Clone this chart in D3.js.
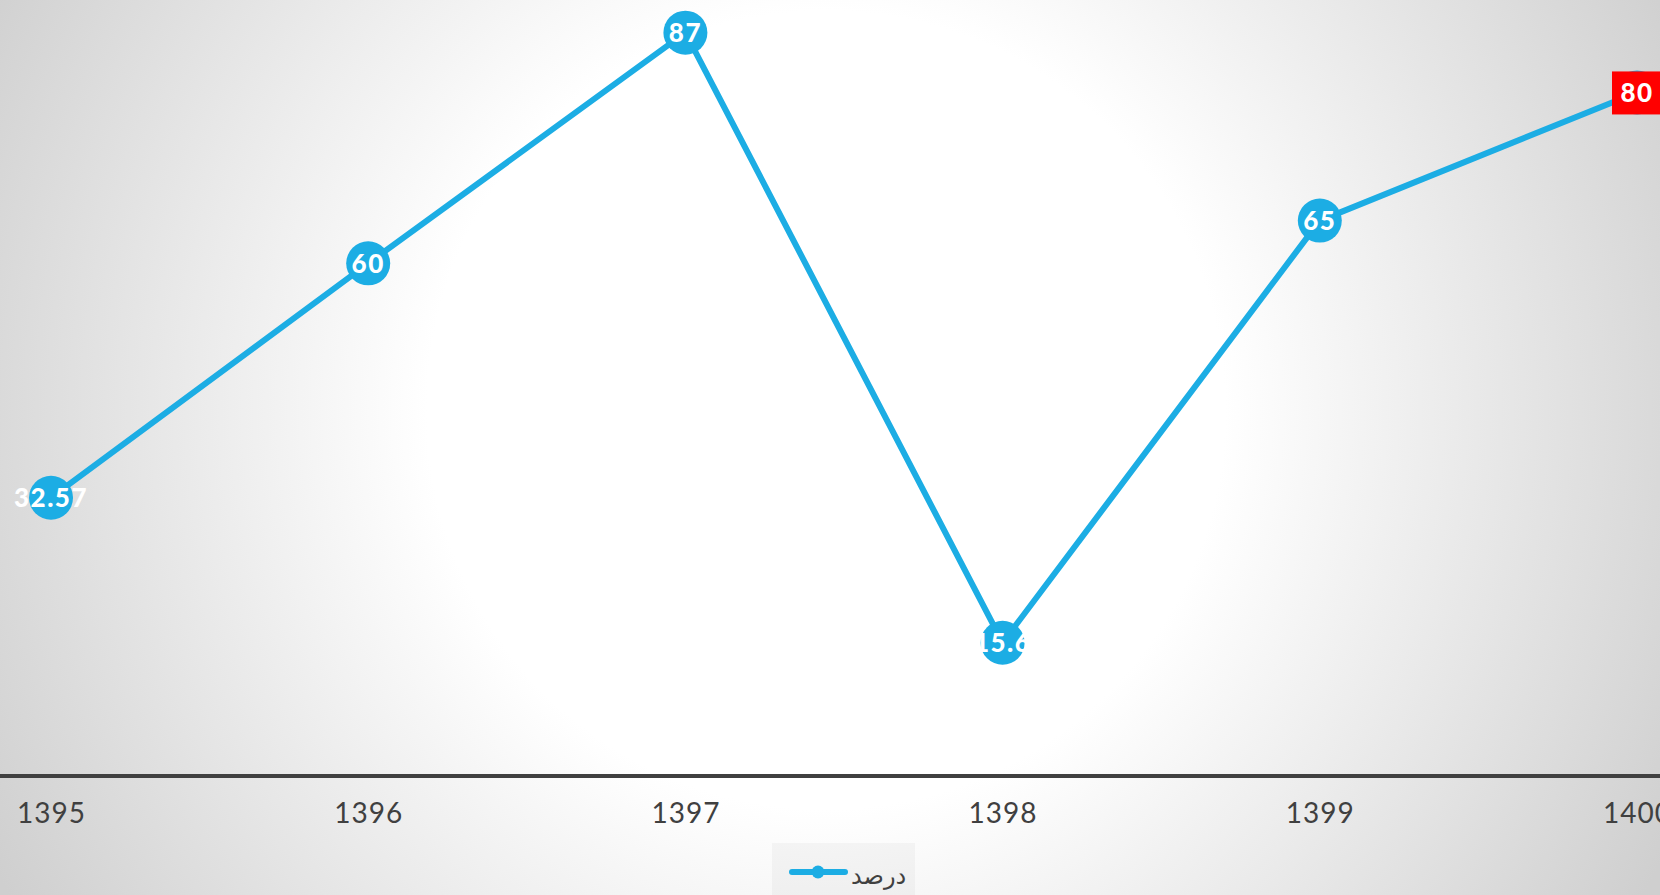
<!DOCTYPE html>
<html>
<head>
<meta charset="utf-8">
<script src="https://cdn.jsdelivr.net/npm/d3@7"></script>
<style>
  html, body { margin: 0; padding: 0; overflow: hidden; }
  svg { display: block; }
</style>
</head>
<body>
<svg width="1660" height="895"></svg>
<script>
var years = ['1395', '1396', '1397', '1398', '1399', '1400'];
var values = [32.57, 60, 87, 15.6, 65, 80];
var valueLabels = ['32.57', '60', '87', '15.6', '65', '80'];
var seriesName = 'درصد';

var svg = d3.select("svg");
var W = 1660, H = 895;
var blue = '#1cade4';

// background
var defs = svg.append("defs");
var grad = defs.append("radialGradient")
    .attr("id", "bg")
    .attr("gradientUnits", "userSpaceOnUse")
    .attr("cx", 826).attr("cy", 410).attr("r", 950);
grad.append("stop").attr("offset", "0%").attr("stop-color", "#ffffff");
grad.append("stop").attr("offset", "42%").attr("stop-color", "#ffffff");
grad.append("stop").attr("offset", "100%").attr("stop-color", "#cfcfcf");

svg.append("rect")
    .attr("width", W).attr("height", H)
    .attr("fill", "url(#bg)");

var x = d3.scalePoint()
    .domain(years)
    .range([51, 1637]);

var y = d3.scaleLinear()
    .domain([0, 90])
    .range([776, 7]);

// x axis
var xAxis = svg.append("g")
    .attr("transform", "translate(0," + y(0) + ")")
    .call(d3.axisBottom(x).tickSize(0).tickPadding(0));
xAxis.select(".domain").remove();
xAxis.append("line")
    .attr("x1", 0).attr("x2", W)
    .attr("stroke", "#404040")
    .attr("stroke-width", 4);
xAxis.selectAll(".tick text")
    .attr("y", 47)
    .attr("dy", 0)
    .attr("font-family", "Lato")
    .attr("font-size", 28)
    .attr("letter-spacing", 1)
    .attr("fill", "#404040");

var pts = years.map(function(d, i) { return [d, values[i], valueLabels[i]]; });

// line
var line = d3.line()
    .x(function(d) { return x(d[0]); })
    .y(function(d) { return y(d[1]); });

svg.append("path")
    .datum(pts)
    .attr("d", line)
    .attr("fill", "none")
    .attr("stroke", blue)
    .attr("stroke-width", 6)
    .attr("stroke-linejoin", "round");

svg.selectAll(".dot")
    .data(pts)
    .enter()
    .append("circle")
    .attr("class", "dot")
    .attr("cx", function(d) { return x(d[0]); })
    .attr("cy", function(d) { return y(d[1]); })
    .attr("r", 22)
    .attr("fill", blue);

// last label has a red box
var last = pts[pts.length - 1];
svg.append("rect")
    .attr("x", x(last[0]) - 25)
    .attr("y", y(last[1]) - 21)
    .attr("width", 50)
    .attr("height", 43)
    .attr("fill", "#ff0000");

svg.selectAll(".lbl")
    .data(pts)
    .enter()
    .append("text")
    .attr("class", "lbl")
    .attr("x", function(d) { return x(d[0]); })
    .attr("y", function(d) { return y(d[1]); })
    .attr("dy", "0.36em")
    .attr("text-anchor", "middle")
    .attr("font-family", "Lato")
    .attr("font-weight", "900")
    .attr("font-size", 26)
    .attr("letter-spacing", 1.5)
    .attr("fill", "#ffffff")
    .text(function(d) { return d[2]; });

// legend
var legend = svg.append("g");
legend.append("rect")
    .attr("x", 772).attr("y", 843)
    .attr("width", 143).attr("height", 60)
    .attr("fill", "#000000")
    .attr("fill-opacity", 0.03);
legend.append("line")
    .attr("x1", 792).attr("x2", 845)
    .attr("y1", 872).attr("y2", 872)
    .attr("stroke", blue)
    .attr("stroke-width", 6)
    .attr("stroke-linecap", "round");
legend.append("circle")
    .attr("cx", 818).attr("cy", 872)
    .attr("r", 6.5)
    .attr("fill", blue);
legend.append("text")
    .attr("x", 851).attr("y", 884)
    .attr("font-family", "Noto Sans, DejaVu Sans")
    .attr("font-size", 24)
    .attr("fill", "#404040")
    .text(seriesName);
</script>
</body>
</html>
